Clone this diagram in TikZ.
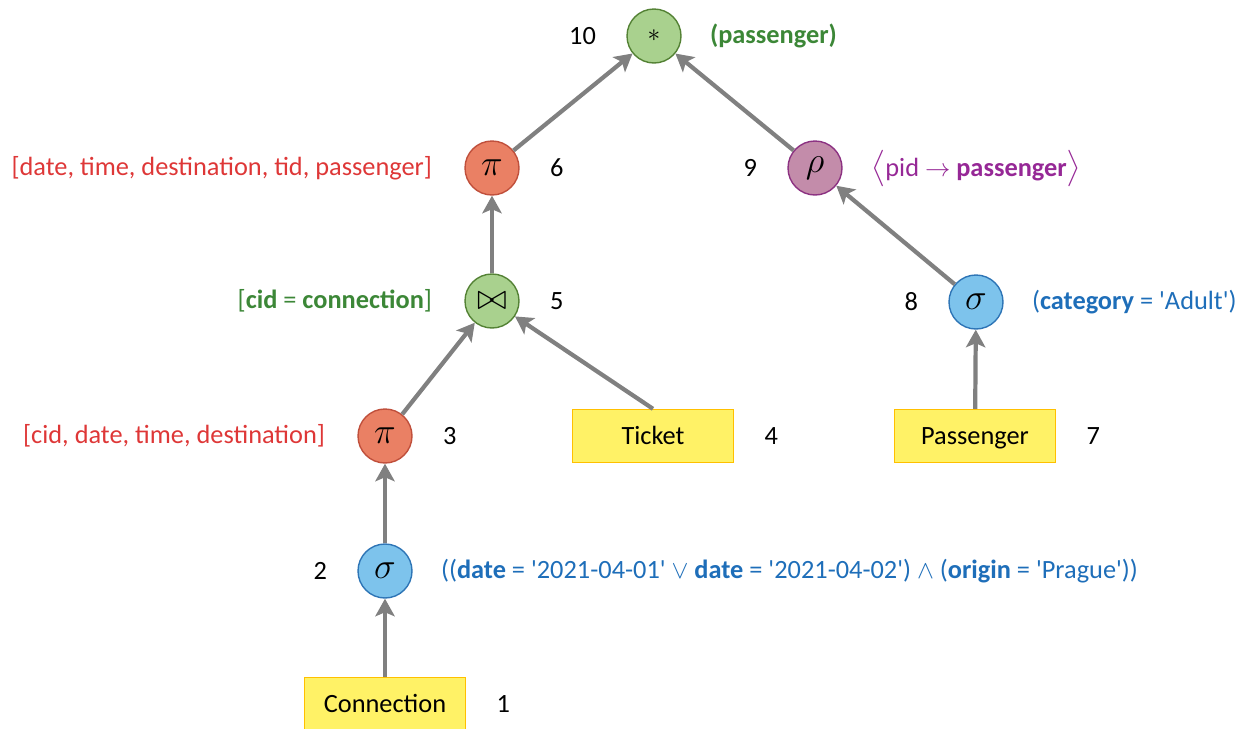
\documentclass[tikz,border=0pt]{standalone}
\usepackage{amsmath}
\usepackage{fontspec}
\setmainfont{Carlito}
\usetikzlibrary{positioning, arrows.meta}

\definecolor{selfill}{RGB}{125,195,236}
\definecolor{selline}{RGB}{46,117,182}
\definecolor{projfill}{RGB}{234,128,100}
\definecolor{projline}{RGB}{192,80,60}
\definecolor{joinfill}{RGB}{169,209,142}
\definecolor{joinline}{RGB}{84,130,53}
\definecolor{renfill}{RGB}{195,140,170}
\definecolor{renline}{RGB}{140,50,130}
\definecolor{relfill}{RGB}{255,242,102}
\definecolor{relline}{RGB}{255,192,0}
\definecolor{arrowgray}{RGB}{128,128,128}
\definecolor{seltext}{RGB}{30,110,185}
\definecolor{projtext}{RGB}{222,55,55}
\definecolor{jointext}{RGB}{60,135,55}
\definecolor{rentext}{RGB}{150,40,150}

\tikzstyle{op} = [circle, draw, line width=0.8pt, minimum size=1.08cm, inner sep=0pt, font=\huge]
\tikzstyle{sel} = [op, fill=selfill, draw=selline]
\tikzstyle{proj} = [op, fill=projfill, draw=projline]
\tikzstyle{joinop} = [op, fill=joinfill, draw=joinline]
\tikzstyle{ren} = [op, fill=renfill, draw=renline]
\tikzstyle{relation} = [rectangle, draw=relline, fill=relfill, line width=0.8pt, minimum width=3.22cm, minimum height=1.06cm, text height=9.6pt, text depth=0pt]
\tikzstyle{num} = [inner sep=0pt]
\tikzstyle{cond} = [inner sep=0pt]
\tikzstyle{arrow} = [line width=2.4pt, draw=arrowgray, -{Stealth[length=10pt, width=11pt, inset=2.3pt]}]

\newcommand{\q}{\textquotesingle}

\begin{document}
\begin{tikzpicture}[x=0.02cm, y=-0.02cm, font=\fontsize{15}{18}\selectfont]
	\useasboundingbox (0,0) rectangle (1249,728);

	% relations
	\node[relation] (n1) at (385,704) {Connection};
	\node[relation] (n4) at (653,436) {Ticket};
	\node[relation] (n7) at (975,436) {Passenger};

	% operators
	\node[sel] (n2) at (385,571) {$\sigma$};
	\node[proj] (n3) at (385,436) {$\pi$};
	\node[joinop] (n5) at (492,301) {$\bowtie$};
	\node[proj] (n6) at (492,168) {$\pi$};
	\node[sel] (n8) at (976,302) {$\sigma$};
	\node[ren] (n9) at (815,168) {$\rho$};
	\node[joinop, font=\Large] (n10) at (654,36) {$\ast$};

	% step numbers
	\node[num, right=0.6cm of n1] (k1) {1};
	\node[num, left=0.6cm of n2] (k2) {2};
	\node[num, right=0.6cm of n3] (k3) {3};
	\node[num, right=0.6cm of n4] (k4) {4};
	\node[num, right=0.6cm of n5] (k5) {5};
	\node[num, right=0.6cm of n6] (k6) {6};
	\node[num, right=0.6cm of n7] (k7) {7};
	\node[num, left=0.6cm of n8] (k8) {8};
	\node[num, left=0.6cm of n9] (k9) {9};
	\node[num, left=0.6cm of n10] (k10) {10};

	% conditions and attribute lists
	\node[cond, text=seltext, right=0.56cm of n2] (c2)
		{((\textbf{date} = \q2021-04-01\q{} $\vee$ \textbf{date} = \q2021-04-02\q) $\wedge$ (\textbf{origin} = \q Prague\q))};
	\node[cond, text=projtext, left=0.64cm of n3] (c3) {[cid, date, time, destination]};
	\node[cond, text=jointext, left=0.64cm of n5] (c5) {[\textbf{cid} = \textbf{connection}]};
	\node[cond, text=projtext, left=0.64cm of n6] (c6) {[date, time, destination, tid, passenger]};
	\node[cond, text=seltext, right=0.56cm of n8] (c8) {(\textbf{category} = \q Adult\q)};
	\node[cond, text=rentext, right=0.56cm of n9, text height=9.6pt, text depth=0pt] (c9)
		{{\LARGE$\big\langle$}pid {\Large$\rightarrow$} \textbf{passenger}{\LARGE$\big\rangle$}};
	\node[cond, text=jointext, right=0.56cm of n10] (c10) {\textbf{(passenger)}};

	% data flow
	\draw[arrow] (n1) -- (n2);
	\draw[arrow] (n2) -- (n3);
	\draw[arrow] (n3) -- (n5);
	\draw[arrow] (n4.north) -- (n5);
	\draw[arrow] (n5) -- (n6);
	\draw[arrow] (n6) -- (n10);
	\draw[arrow] (n7) -- (n8);
	\draw[arrow] (n8) -- (n9);
	\draw[arrow] (n9) -- (n10);
\end{tikzpicture}
\end{document}
